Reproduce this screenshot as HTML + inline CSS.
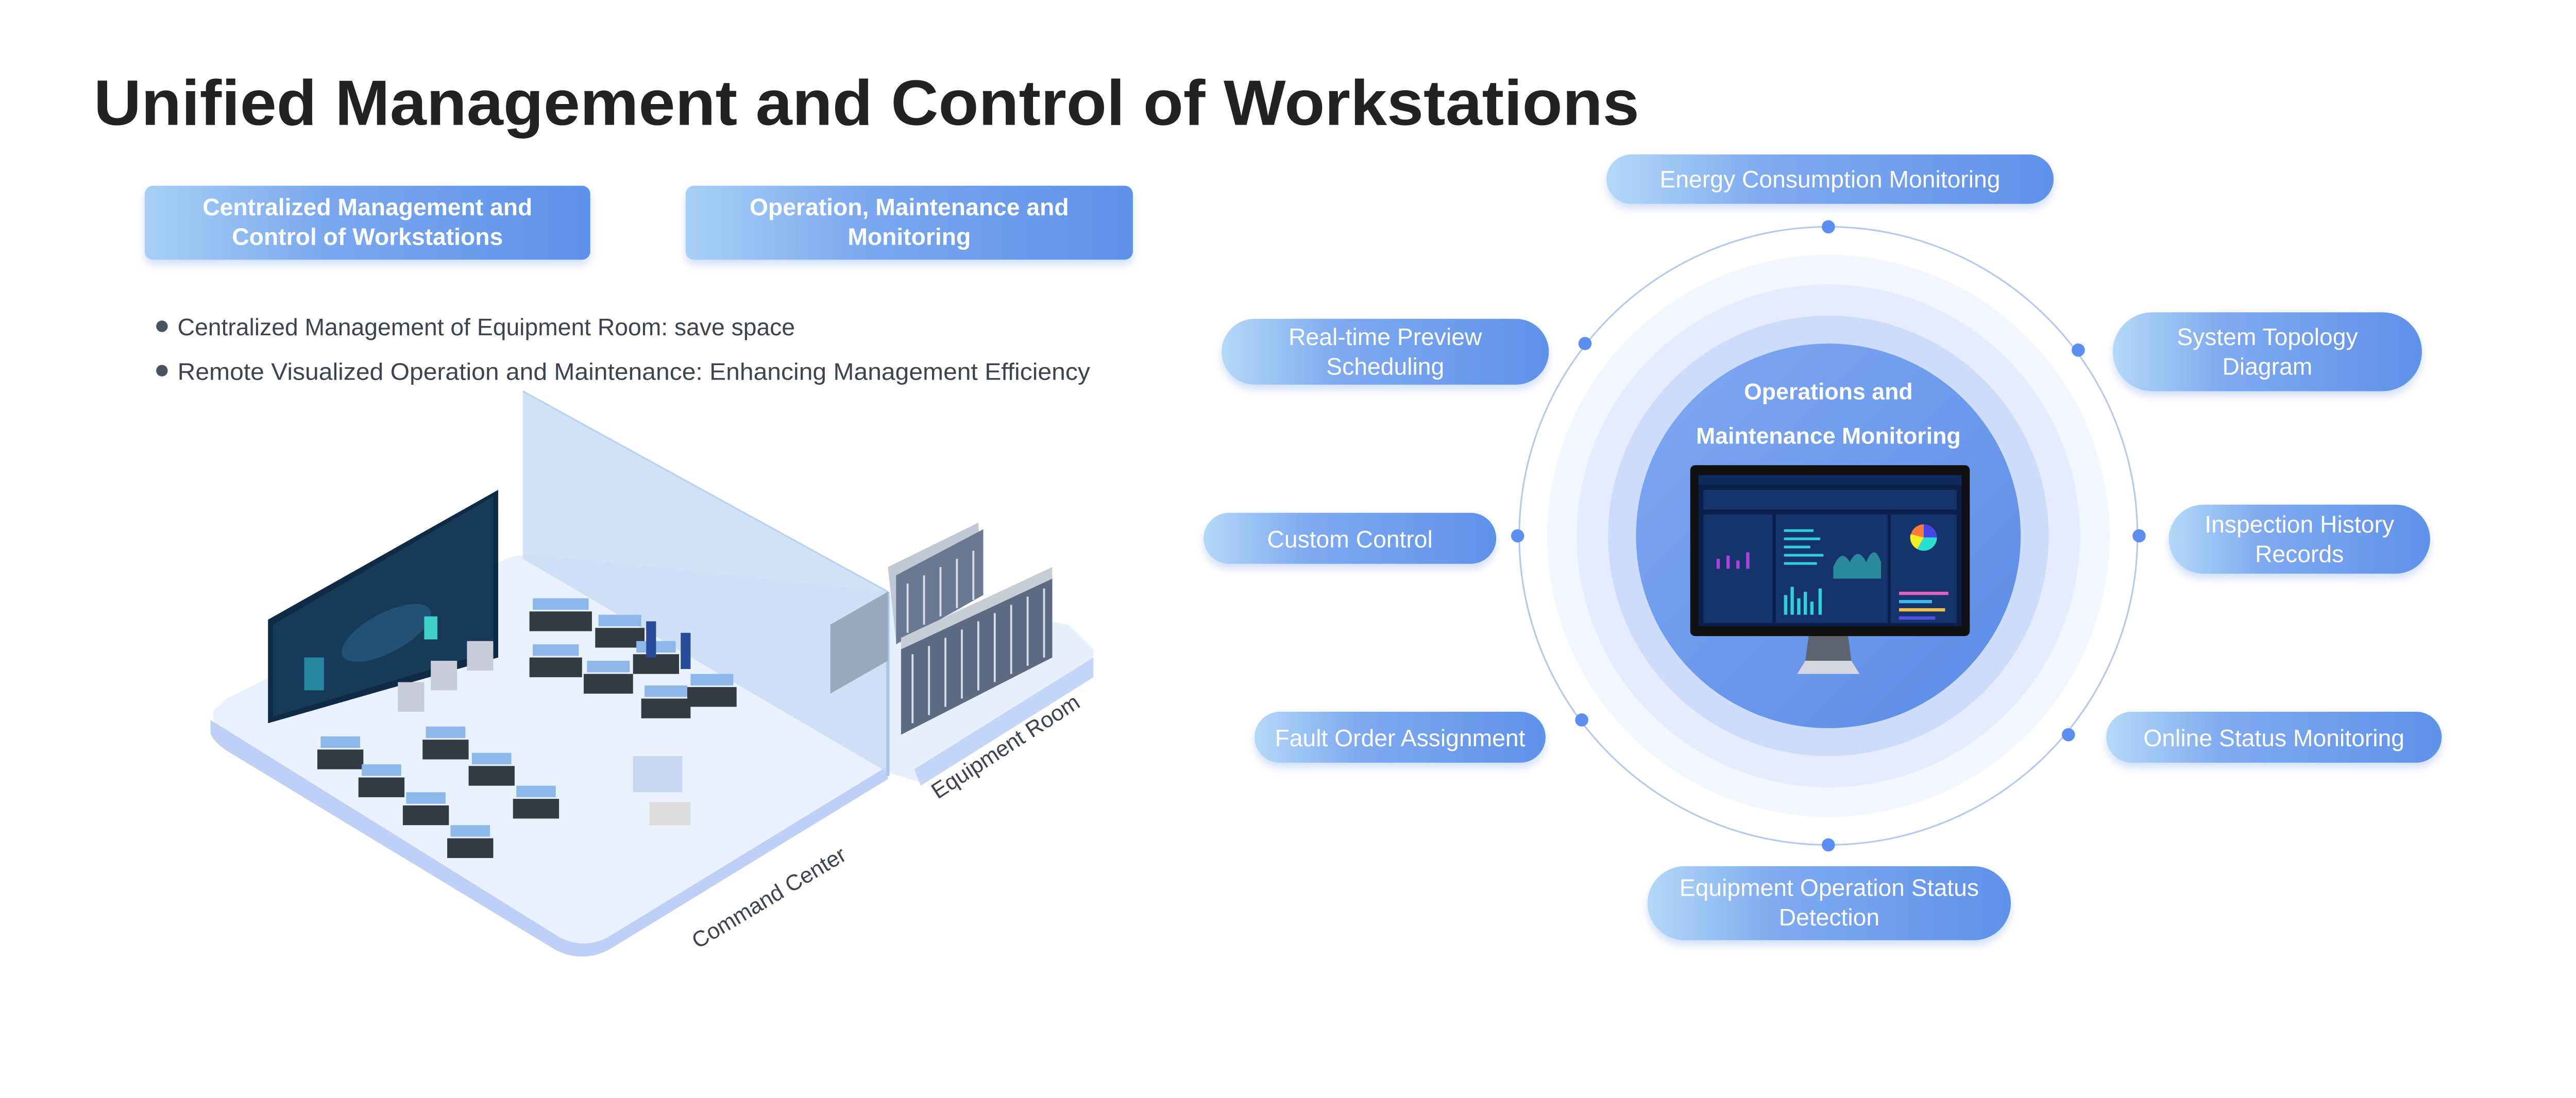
<!DOCTYPE html>
<html><head><meta charset="utf-8"><style>
html,body{margin:0;padding:0;background:#fff;}
svg{display:block;}
text{font-family:"Liberation Sans",sans-serif;}
</style></head><body>
<svg width="5119" height="2132" viewBox="0 0 1604 668" preserveAspectRatio="none" xmlns="http://www.w3.org/2000/svg">
<defs>
<linearGradient id="pill" x1="0" x2="1" y1="0" y2="0">
<stop offset="0" stop-color="#b4d9f7"/><stop offset="0.35" stop-color="#7eaaf0"/><stop offset="1" stop-color="#5e92ea"/></linearGradient>
<linearGradient id="box" x1="0" x2="1" y1="0" y2="0">
<stop offset="0" stop-color="#a8d0f5"/><stop offset="0.4" stop-color="#7aa8ef"/><stop offset="1" stop-color="#5d92ea"/></linearGradient>
<linearGradient id="core" x1="0" x2="1" y1="0" y2="1">
<stop offset="0" stop-color="#7fa8f2"/><stop offset="1" stop-color="#5a8ce6"/></linearGradient>
<filter id="sh" x="-10%" y="-30%" width="120%" height="170%"><feDropShadow dx="0" dy="3" stdDeviation="2.5" flood-color="#7ea4e8" flood-opacity="0.35"/></filter>
</defs>

<text x="57" y="76" font-size="39" font-weight="bold" fill="#222" textLength="940" lengthAdjust="spacingAndGlyphs">Unified Management and Control of Workstations</text>

<rect x="88" y="113" width="271" height="45" rx="5" fill="url(#box)" filter="url(#sh)"/>
<text x="223.5" y="131" font-size="14.5" font-weight="bold" fill="#fff" text-anchor="middle">Centralized Management and</text>
<text x="223.5" y="149" font-size="14.5" font-weight="bold" fill="#fff" text-anchor="middle">Control of Workstations</text>
<rect x="417" y="113" width="272" height="45" rx="5" fill="url(#box)" filter="url(#sh)"/>
<text x="553" y="131" font-size="14.5" font-weight="bold" fill="#fff" text-anchor="middle">Operation, Maintenance and</text>
<text x="553" y="149" font-size="14.5" font-weight="bold" fill="#fff" text-anchor="middle">Monitoring</text>

<circle cx="98.5" cy="198.5" r="3.5" fill="#4a5260"/>
<text x="108" y="204" font-size="14.5" fill="#3d4450">Centralized Management of Equipment Room:  save space</text>
<circle cx="98.5" cy="225.5" r="3.5" fill="#4a5260"/>
<text x="108" y="231" font-size="14.5" fill="#3d4450" textLength="555" lengthAdjust="spacingAndGlyphs">Remote Visualized Operation and Maintenance: Enhancing Management Efficiency</text>

<polygon points="540,362 650,380 665,395 665,410 560,476 540,470" fill="#e6f0fd"/>
<polygon points="665,400 665,412 560,478 556,468" fill="#c3d6f7"/>
<path d="M130,432 Q128,440 136,446 L340,572 Q355,580 370,572 L540,468 L540,360 L330,338 Q318,336 308,340 L138,425 Z" fill="#e9f1fd"/>
<path d="M128,438 L128,446 Q130,452 140,458 L338,578 Q354,586 370,578 L540,474 L540,466 L370,570 Q355,578 340,570 Z" fill="#bfd0f6"/>
<polygon points="318,238 540,360 540,470 318,340" fill="#c8ddf5" opacity="0.85"/>
<line x1="540" y1="360" x2="540" y2="472" stroke="#a9c6ee" stroke-width="2"/>
<line x1="318" y1="238" x2="540" y2="360" stroke="#b9d1f2" stroke-width="1"/>
<polygon points="163,377 303,298 303,400 163,440" fill="#0f2a44"/>
<polygon points="166,380 300,302 300,396 166,436" fill="#173a58"/>
<ellipse cx="235" cy="385" rx="30" ry="12" fill="#1f5275" transform="rotate(-28 235 385)"/>
<rect x="258" y="375" width="8" height="14" fill="#3fd0c8"/>
<rect x="185" y="400" width="12" height="20" fill="#2fa8c0" opacity="0.7"/>
<g>
<polygon points="505,380 540,360 540,402 505,422" fill="#9aa8bb"/>
<polygon points="540,345 595,318 598,358 545,390" fill="#bfc8d4"/>
<polygon points="545,350 598,322 598,362 545,392" fill="#6a7890"/>
<polygon points="548,395 640,352 640,400 548,447" fill="#5d6b82"/>
<polygon points="548,388 640,345 640,352 548,395" fill="#c6cdd6"/>
</g>
<g stroke="#d5dde8" stroke-width="1.2">
<line x1="555" y1="398" x2="555" y2="440"/><line x1="565" y1="393" x2="565" y2="435"/><line x1="575" y1="388" x2="575" y2="430"/><line x1="585" y1="383" x2="585" y2="425"/><line x1="595" y1="378" x2="595" y2="420"/><line x1="605" y1="373" x2="605" y2="415"/><line x1="615" y1="368" x2="615" y2="410"/><line x1="625" y1="363" x2="625" y2="405"/><line x1="635" y1="358" x2="635" y2="400"/>
<line x1="552" y1="355" x2="552" y2="385"/><line x1="562" y1="350" x2="562" y2="380"/><line x1="572" y1="345" x2="572" y2="375"/><line x1="582" y1="340" x2="582" y2="370"/><line x1="592" y1="335" x2="592" y2="365"/>
</g>
<g>
<g fill="#333a44">
<rect x="322" y="372" width="38" height="12"/><rect x="362" y="382" width="30" height="12"/><rect x="322" y="400" width="32" height="12"/><rect x="355" y="410" width="30" height="12"/><rect x="385" y="398" width="28" height="12"/><rect x="390" y="425" width="30" height="12"/><rect x="418" y="418" width="30" height="12"/>
<rect x="193" y="456" width="28" height="12"/><rect x="257" y="450" width="28" height="12"/><rect x="218" y="473" width="28" height="12"/><rect x="285" y="466" width="28" height="12"/><rect x="245" y="490" width="28" height="12"/><rect x="312" y="486" width="28" height="12"/><rect x="272" y="510" width="28" height="12"/>
</g>
<g fill="#8fb8ea">
<rect x="324" y="364" width="34" height="7"/><rect x="364" y="374" width="26" height="7"/><rect x="324" y="392" width="28" height="7"/><rect x="357" y="402" width="26" height="7"/><rect x="387" y="390" width="24" height="7"/><rect x="392" y="417" width="26" height="7"/><rect x="420" y="410" width="26" height="7"/>
<rect x="195" y="448" width="24" height="7"/><rect x="259" y="442" width="24" height="7"/><rect x="220" y="465" width="24" height="7"/><rect x="287" y="458" width="24" height="7"/><rect x="247" y="482" width="24" height="7"/><rect x="314" y="478" width="24" height="7"/><rect x="274" y="502" width="24" height="7"/>
</g>
<g fill="#c8ccd8"><rect x="242" y="415" width="16" height="18"/><rect x="262" y="402" width="16" height="18"/><rect x="284" y="390" width="16" height="18"/></g>
<rect x="385" y="460" width="30" height="22" fill="#c8d6f0"/>
<rect x="395" y="488" width="25" height="14" fill="#ddd"/>
<rect x="393" y="378" width="6" height="22" fill="#2a4a9a"/><rect x="414" y="385" width="6" height="22" fill="#2a4a9a"/>
</g>
<text transform="translate(470,550) rotate(-31)" font-size="13.5" fill="#3d4450" text-anchor="middle">Command Center</text>
<text transform="translate(614,458) rotate(-33)" font-size="13.5" fill="#3d4450" text-anchor="middle">Equipment Room</text>

<circle cx="1112" cy="326" r="188" fill="none" stroke="#b5c8f0" stroke-width="1"/>
<circle cx="1112" cy="326" r="171" fill="#f2f6fe"/>
<circle cx="1112" cy="326" r="153" fill="#e4ecfd"/>
<circle cx="1112" cy="326" r="134" fill="#cddcfa"/>
<circle cx="1112" cy="326" r="117" fill="url(#core)"/>
<g fill="#5b8ef0">
<circle cx="1112" cy="138" r="4"/><circle cx="964" cy="209" r="4"/><circle cx="1264" cy="213" r="4"/><circle cx="923" cy="326" r="4"/><circle cx="1301" cy="326" r="4"/><circle cx="962" cy="438" r="4"/><circle cx="1258" cy="447" r="4"/><circle cx="1112" cy="514" r="4"/>
</g>
<text x="1112" y="243" font-size="14" font-weight="bold" fill="#fff" text-anchor="middle">Operations and</text>
<text x="1112" y="270" font-size="14" font-weight="bold" fill="#fff" text-anchor="middle">Maintenance Monitoring</text>
<polygon points="1100,387 1124,387 1126,402 1098,402" fill="#5c6470"/>
<polygon points="1098,402 1126,402 1131,410 1093,410" fill="#d4d8de"/>
<rect x="1028" y="283" width="170" height="104" rx="3" fill="#111"/>
<rect x="1033" y="289" width="160" height="92" fill="#0b1f4a"/>
<rect x="1033" y="289" width="160" height="6" fill="#0e2a5c"/>
<g fill="#16346c"><rect x="1036" y="298" width="154" height="12"/><rect x="1036" y="313" width="42" height="66"/><rect x="1080" y="313" width="68" height="66"/><rect x="1150" y="313" width="40" height="66"/></g>
<circle cx="1170" cy="327" r="8" fill="#ff7b3a"/><path d="M1170,327 L1170,319 A8,8 0 0,1 1178,327 Z" fill="#4545e8"/><path d="M1170,327 L1178,327 A8,8 0 0,1 1166,334 Z" fill="#28e0d0"/><path d="M1170,327 L1166,334 A8,8 0 0,1 1162,325 Z" fill="#f0f020"/>
<path d="M1115,345 q5,-12 10,-3 q5,-10 10,0 q5,-12 9,0 L1144,352 L1115,352 Z" fill="#2a8a9a"/>
<g fill="#2fd0d8"><rect x="1085" y="322" width="18" height="1.6"/><rect x="1085" y="327" width="22" height="1.6"/><rect x="1085" y="332" width="16" height="1.6"/><rect x="1085" y="337" width="24" height="1.6"/><rect x="1085" y="342" width="20" height="1.6"/>
<rect x="1085" y="362" width="2" height="12"/><rect x="1089" y="357" width="2" height="17"/><rect x="1093" y="364" width="2" height="10"/><rect x="1097" y="360" width="2" height="14"/><rect x="1101" y="366" width="2" height="8"/><rect x="1106" y="358" width="2" height="16"/></g>
<g fill="#b040e0"><rect x="1044" y="340" width="2" height="6"/><rect x="1050" y="338" width="2" height="8"/><rect x="1056" y="341" width="2" height="5"/><rect x="1062" y="336" width="2" height="10"/></g>
<g><rect x="1155" y="360" width="30" height="2" fill="#e060c0"/><rect x="1155" y="365" width="20" height="2" fill="#40b8f0"/><rect x="1155" y="370" width="28" height="2" fill="#f0c040"/><rect x="1155" y="375" width="22" height="2" fill="#5050e8"/></g>

<g filter="url(#sh)" fill="url(#pill)">
<rect x="977" y="94" width="272" height="30" rx="15"/>
<rect x="743" y="194" width="199" height="40" rx="20"/>
<rect x="1285" y="190" width="188" height="48" rx="24"/>
<rect x="732" y="312" width="178" height="31" rx="15.5"/>
<rect x="1319" y="307" width="159" height="42" rx="21"/>
<rect x="763" y="433" width="177" height="31" rx="15.5"/>
<rect x="1281" y="433" width="204" height="31" rx="15.5"/>
<rect x="1002" y="527" width="221" height="45" rx="22.5"/>
</g>
<g font-size="14.5" fill="#fff" text-anchor="middle">
<text x="1113" y="114">Energy Consumption Monitoring</text>
<text x="842.5" y="210">Real-time Preview</text><text x="842.5" y="228">Scheduling</text>
<text x="1379" y="210">System Topology</text><text x="1379" y="228">Diagram</text>
<text x="821" y="333">Custom Control</text>
<text x="1398.5" y="324">Inspection History</text><text x="1398.5" y="342">Records</text>
<text x="851.5" y="454">Fault Order Assignment</text>
<text x="1383" y="454">Online Status Monitoring</text>
<text x="1112.5" y="545">Equipment Operation Status</text><text x="1112.5" y="563">Detection</text>
</g>
</svg>
</body></html>
